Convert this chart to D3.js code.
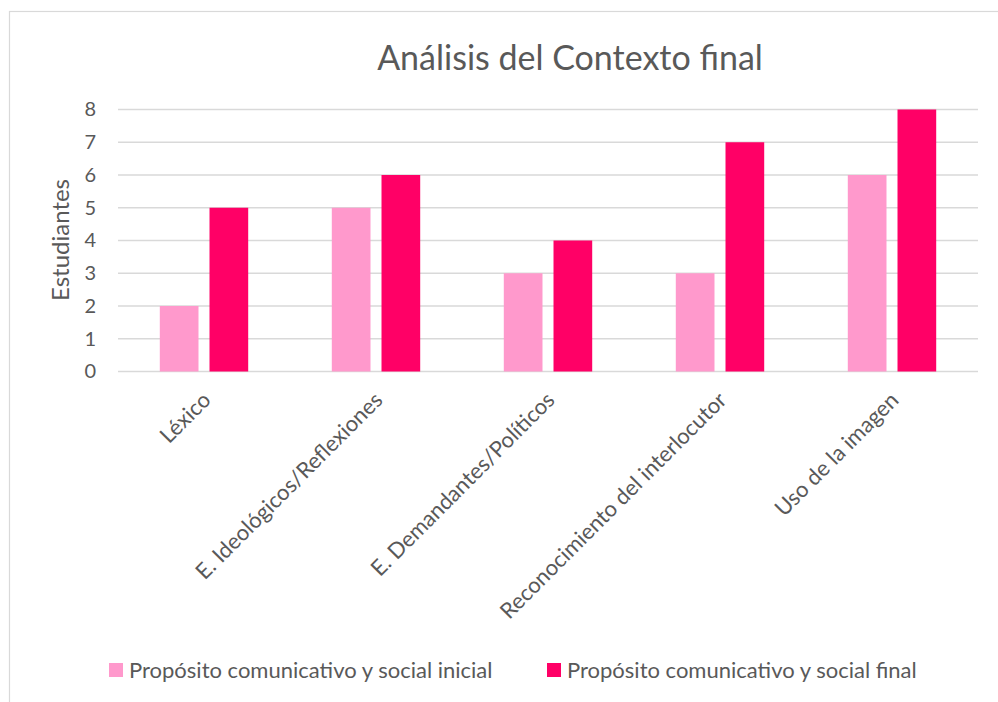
<!DOCTYPE html>
<html><head><meta charset="utf-8">
<script src="https://cdn.jsdelivr.net/npm/d3@7"></script>
<style>
html,body{margin:0;padding:0;background:#fff;}
svg{display:block;font-family:Lato,"Open Sans",sans-serif;}
</style></head>
<body>
<svg id="chart" width="998" height="702"></svg>
<script>
const categories = ["Léxico","E. Ideológicos/Reflexiones","E. Demandantes/Políticos","Reconocimiento del interlocutor","Uso de la imagen"];
const seriesNames = ["Propósito comunicativo y social inicial","Propósito comunicativo y social final"];
const inicial = [2,5,3,3,6];
const final = [5,6,4,7,8];
const yTicks = [0,1,2,3,4,5,6,7,8];
const colors = ["#FF99CC","#FF0066"];

const svg = d3.select("#chart");
const W = 998, H = 702;
const x0 = 118, x1 = 978, yTop = 109.5, yBot = 371.5;
const FONT = "Lato,sans-serif";

svg.append("rect").attr("x",9.5).attr("y",11.5).attr("width",1010).attr("height",720)
  .attr("fill","#fff").attr("stroke","#D9D9D9").attr("stroke-width",1.2);

const x = d3.scaleBand().domain(categories).range([x0,x1]).paddingInner(0).paddingOuter(0);
const y = d3.scaleLinear().domain([0,8]).range([yBot,yTop]);

// gridlines
svg.append("g").selectAll("line").data(yTicks).join("line")
  .attr("x1",x0).attr("x2",x1)
  .attr("y1",d=>y(d)).attr("y2",d=>y(d))
  .attr("stroke","#D9D9D9").attr("stroke-width",1.5);

// y axis labels
const yAxis = d3.axisLeft(y).tickValues(yTicks).tickSize(0).tickPadding(0);
const gy = svg.append("g").attr("transform",`translate(${x0-22},0)`).call(yAxis);
gy.select(".domain").remove();
gy.selectAll("text").attr("fill","#595959").attr("font-size",20).attr("font-family",FONT);

// bars
const bw = x.bandwidth()*0.225, gap = x.bandwidth()*0.064;
const data = categories.map((c,i)=>({c, vals:[inicial[i], final[i]]}));
const g = svg.append("g");
data.forEach(d=>{
  const cx = x(d.c) + x.bandwidth()/2;
  d.vals.forEach((v,j)=>{
    const bx = j===0 ? cx - gap/2 - bw : cx + gap/2;
    g.append("rect").attr("x",bx).attr("y",y(v)).attr("width",bw).attr("height",y(0)-y(v))
      .attr("fill",colors[j]);
  });
});

// x labels
const xAxis = d3.axisBottom(x).tickSize(0).tickPadding(0);
const gx = svg.append("g").attr("transform",`translate(0,${yBot})`).call(xAxis);
gx.select(".domain").remove();
gx.selectAll("text")
  .attr("fill","#595959").attr("font-size",22).attr("font-family",FONT)
  .attr("text-anchor","end").attr("dy",0)
  .attr("transform","translate(8,30) rotate(-45)");

// title
svg.append("text").attr("x",570).attr("y",70).attr("text-anchor","middle")
  .attr("fill","#595959").attr("font-size",34).attr("font-family",FONT)
  .text("Análisis del Contexto final");

// y title
svg.append("text").attr("transform","translate(69,240) rotate(-90)").attr("text-anchor","middle")
  .attr("fill","#595959").attr("font-size",24).attr("font-family",FONT)
  .text("Estudiantes");

// legend
const legX = [109,547];
seriesNames.forEach((s,i)=>{
  svg.append("rect").attr("x",legX[i]).attr("y",663).attr("width",14).attr("height",14).attr("fill",colors[i]);
  svg.append("text").attr("x",legX[i]+20).attr("y",678).attr("fill","#595959")
    .attr("font-size",22).attr("font-family",FONT).text(s);
});
</script>
</body></html>
